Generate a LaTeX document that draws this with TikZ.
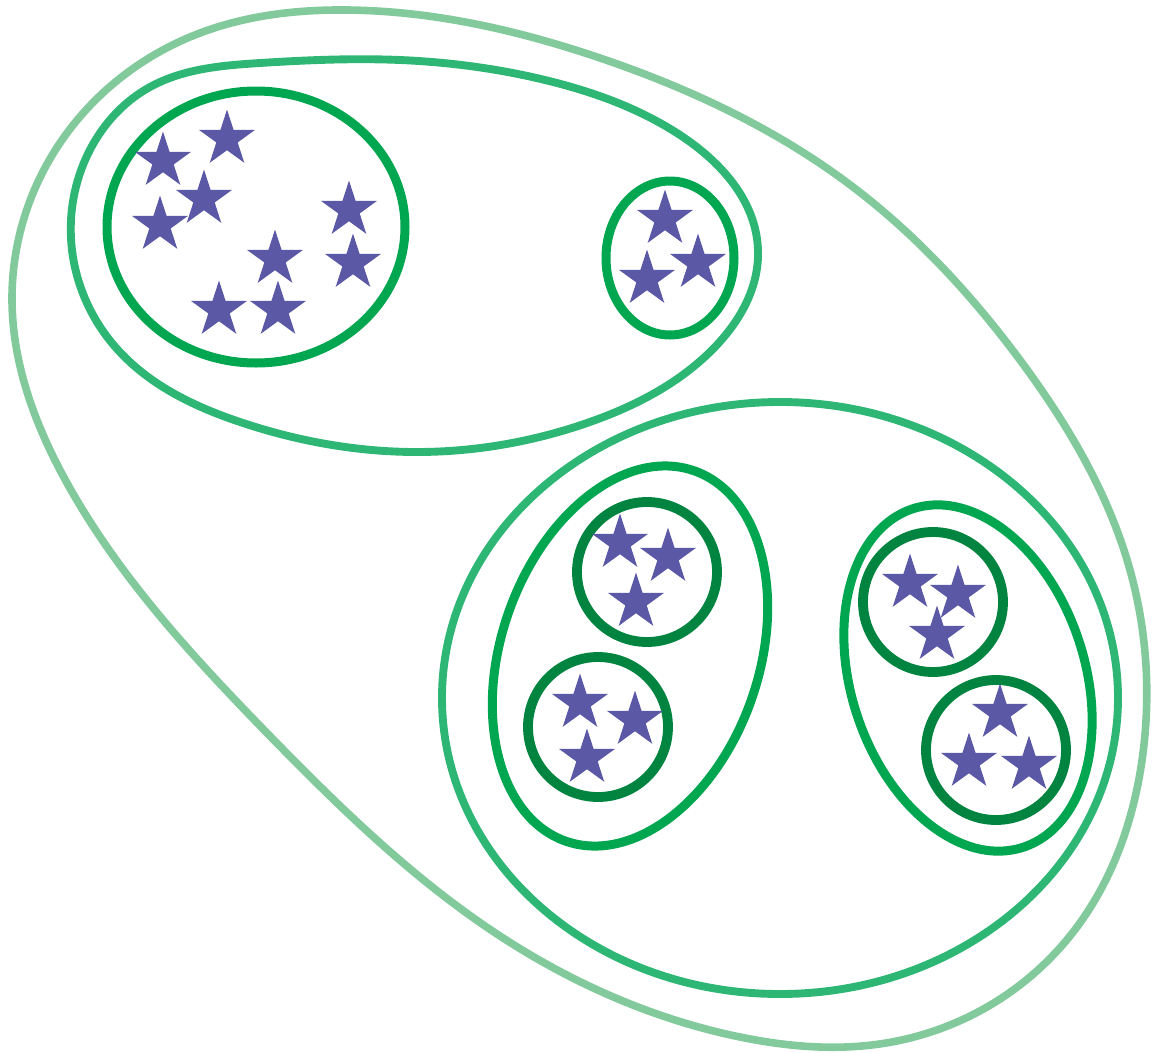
\documentclass[tikz,border=0pt]{standalone}
\usetikzlibrary{shapes.geometric,hobby}
\definecolor{outergreen}{HTML}{82CA9C}
\definecolor{midgreen}{HTML}{2DB674}
\definecolor{innergreen}{HTML}{00A650}
\definecolor{darkgreen}{HTML}{00843F}
\definecolor{starblue}{HTML}{5B58A6}

\begin{document}
\begin{tikzpicture}[x=0.025cm,y=-0.025cm,
    starmark/.style={star,star points=5,star point ratio=2.618,fill=starblue,
        draw=none,inner sep=0pt,minimum size=1.47cm}]
    \useasboundingbox (0,0) rectangle (1153,1053);

    % 最外层
    \draw[outergreen,line width=5.4pt,use Hobby shortcut,closed=true]
        (347,10) .. (600,58) .. (853,187) .. (1020,360) .. (1130,570)
        .. (1143,753) .. (1070,936) .. (886,1043) .. (740,1037) .. (500,936)
        .. (267,733) .. (67,483) .. (12,300) .. (67,133) .. (200,33);

    % 第二层：左上
    \draw[midgreen,line width=5.6pt,use Hobby shortcut,closed=true]
        (72,250) .. (86,158) .. (150,87) .. (260,63) .. (400,60)
        .. (545,80) .. (680,135) .. (758,250) .. (712,350) .. (587,423)
        .. (415,452) .. (243,423) .. (118,350);

    % 第二层：右下
    \draw[midgreen,line width=5.6pt] (780,698) ellipse [x radius=338, y radius=296];

    % 第三层
    \draw[innergreen,line width=6.4pt] (256,227) ellipse [x radius=149, y radius=136];
    \draw[innergreen,line width=6.4pt] (670,258) ellipse [x radius=64, y radius=77];
    \draw[innergreen,line width=6.4pt,rotate around={-19:(630,656)}]
        (630,656) ellipse [x radius=129, y radius=196];
    \draw[innergreen,line width=6.4pt,rotate around={18:(968,678)}]
        (968,678) ellipse [x radius=117, y radius=178];

    % 第四层
    \draw[darkgreen,line width=7pt] (647,572) circle [radius=70];
    \draw[darkgreen,line width=7pt] (598,727) circle [radius=70];
    \draw[darkgreen,line width=7pt] (933,602) circle [radius=70];
    \draw[darkgreen,line width=7pt] (996,750) circle [radius=70];

    % 星
    \foreach \p [count=\i] in {(163,161),(227,139),(204,199),(160,225),(349,210),
        (275,259),(353,263),(219,310),(278,310),
        (665,219),(698,263),(647,279),
        (620,543),(668,557),(636,602),(580,703),(635,720),(587,758),
        (910,583),(958,594),(937,635),(1000,713),(969,762),(1029,765)}
        \node[starmark] (star\i) at \p {};
\end{tikzpicture}
\end{document}
